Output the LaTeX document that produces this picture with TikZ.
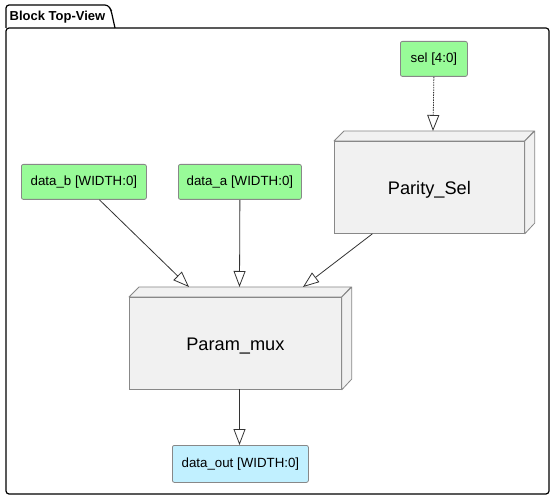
\documentclass[tikz,border=0pt]{standalone}
\usepackage{fontspec}
\setmainfont{Liberation Sans}
\usetikzlibrary{arrows.meta}
\definecolor{portgreen}{HTML}{98FB98}
\definecolor{portblue}{HTML}{C1F0FF}
\definecolor{boxfill}{HTML}{F1F1F1}
\definecolor{boxline}{HTML}{888888}
\definecolor{lineclr}{HTML}{333333}
\begin{document}
\begin{tikzpicture}[x=1pt,y=-1pt,
  port/.style={draw=boxline, rounded corners=2pt, line width=0.8pt, font=\fontsize{13.3}{15}\selectfont, inner sep=0pt, anchor=north west},
  blockbox/.style={draw=boxline, fill=boxfill, line width=0.8pt, font=\fontsize{18.2}{20}\selectfont, inner sep=0pt, anchor=north west, text height=14pt, text depth=0pt},
  face/.style={draw=boxline, fill=boxfill, line width=0.8pt, line join=round},
  conn/.style={draw=lineclr, line width=0.8pt, -{Triangle[open, length=16pt, width=12pt, line width=0.8pt]}}
]
\useasboundingbox (0,0) rectangle (555,500);
% frame
\draw[line width=1.2pt, rounded corners=3pt] (6,28) -- (6,5) -- (108,5) -- (111,10) -- (115,28);
\draw[line width=1.2pt, rounded corners=3pt] (6,28) -- (6,494) -- (549,494) -- (549,28) -- cycle;
\node[font=\bfseries\fontsize{13}{15}\selectfont, anchor=west, inner sep=0pt] (title) at (9.5,17) {Block Top-View};

% ports
\node[port, fill=portgreen, minimum width=67pt, minimum height=35pt] (sel) at (400,41) {sel [4:0]};
\node[port, fill=portgreen, minimum width=125pt, minimum height=35pt] (datab) at (21,164) {data\_b [WIDTH:0]};
\node[port, fill=portgreen, minimum width=123pt, minimum height=35pt] (dataa) at (178,164) {data\_a [WIDTH:0]};
\node[port, fill=portblue, minimum width=136pt, minimum height=37pt] (dataout) at (172,445) {data\_out [WIDTH:0]};

% Parity_Sel block
\node[blockbox, minimum width=190pt, minimum height=92pt] (parity) at (334,141) {Parity\_Sel};
\draw[face] (parity.north west) -- ++(10,-10) -- ++(190,0) -- (parity.north east) -- cycle;
\draw[face] (parity.north east) -- ++(10,-10) -- ++(0,92) -- (parity.south east) -- cycle;
\coordinate (paritytop) at (433,131);

% Param_mux block
\node[blockbox, minimum width=212pt, minimum height=92pt] (mux) at (129,297) {Param\_mux};
\draw[face] (mux.north west) -- ++(10,-10) -- ++(212,0) -- (mux.north east) -- cycle;
\draw[face] (mux.north east) -- ++(10,-10) -- ++(0,92) -- (mux.south east) -- cycle;
\coordinate (muxinb) at (189,287);
\coordinate (muxina) at (239.5,287);
\coordinate (muxinp) at (303,287);
\coordinate (muxout) at (239.5,389);

% connectors
\draw[conn, dash pattern=on 1.5pt off 1pt] (sel.south) -- (paritytop);
\draw[conn] ([xshift=15.5pt]datab.south) -- (muxinb);
\draw[conn] (dataa.south) -- (muxina);
\draw[conn] ([xshift=-57pt]parity.south) -- (muxinp);
\draw[conn] (muxout) -- (dataout.north -| muxout);
\end{tikzpicture}
\end{document}
